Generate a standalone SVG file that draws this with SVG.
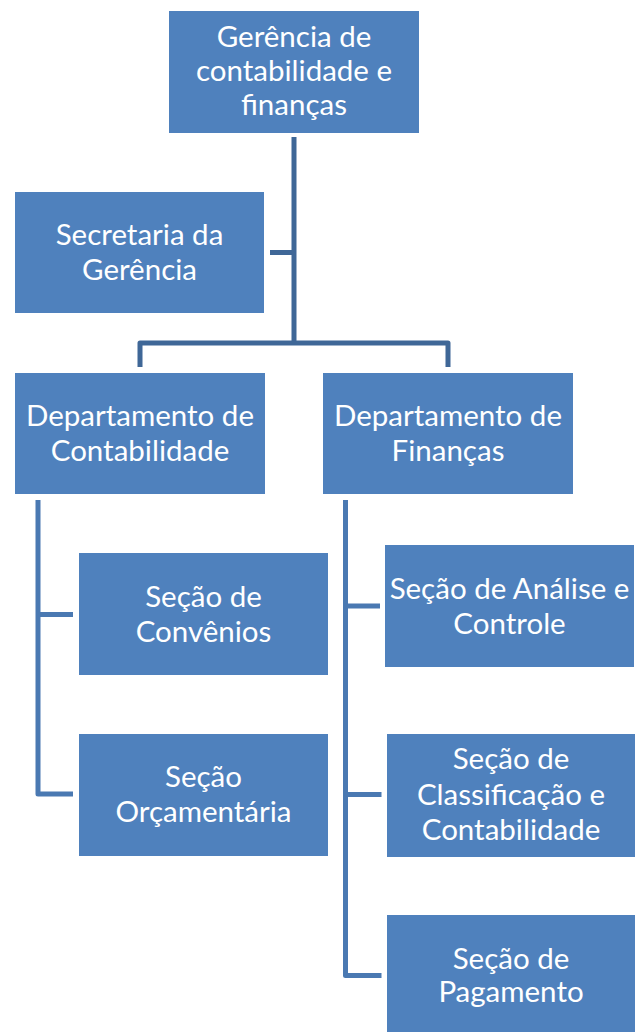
<svg xmlns="http://www.w3.org/2000/svg" width="635" height="1032" viewBox="0 0 635 1032">
<style>
.box{fill:#4F81BD}
.t{font-family:Lato,"Liberation Sans",sans-serif;font-size:29.5px;fill:#FFFFFF;text-anchor:middle}
.c1{fill:none;stroke:#3F6797;stroke-width:5;stroke-linejoin:round}
.c2{fill:none;stroke:#4A79B2;stroke-width:5;stroke-linejoin:round}
</style>
<rect width="635" height="1032" fill="#FFFFFF"/>
<g id="connectors">
<path class="c1" d="M294,137 V343"/>
<path class="c1" d="M270,252.5 H294"/>
<path class="c1" d="M140,367 V343 H448 V367"/>
<path class="c2" d="M38,500 V794 H73"/>
<path class="c2" d="M38,614.5 H73"/>
<path class="c2" d="M345.5,500 V975.5 H381.5"/>
<path class="c2" d="M345.5,606 H380"/>
<path class="c2" d="M345.5,794.5 H381.5"/>
</g>
<g id="n-gerencia">
<rect class="box" x="169" y="11" width="250" height="122"/>
<text class="t" x="294"><tspan x="294" y="47">Gerência de</tspan><tspan x="294" y="81">contabilidade e</tspan><tspan x="294" y="115">finanças</tspan></text>
</g>
<g id="n-secretaria">
<rect class="box" x="15" y="192" width="249" height="121"/>
<text class="t"><tspan x="139.5" y="245">Secretaria da</tspan><tspan x="139.5" y="280">Gerência</tspan></text>
</g>
<g id="n-dep-contabilidade">
<rect class="box" x="15" y="373" width="250" height="121"/>
<text class="t"><tspan x="140" y="426">Departamento de</tspan><tspan x="140" y="461">Contabilidade</tspan></text>
</g>
<g id="n-dep-financas">
<rect class="box" x="323" y="373" width="250" height="121"/>
<text class="t"><tspan x="448" y="426">Departamento de</tspan><tspan x="448" y="461">Finanças</tspan></text>
</g>
<g id="n-convenios">
<rect class="box" x="79" y="553" width="249" height="122"/>
<text class="t"><tspan x="203.5" y="607">Seção de</tspan><tspan x="203.5" y="641.5">Convênios</tspan></text>
</g>
<g id="n-orcamentaria">
<rect class="box" x="79" y="734" width="249" height="122"/>
<text class="t"><tspan x="203.5" y="787">Seção</tspan><tspan x="203.5" y="822">Orçamentária</tspan></text>
</g>
<g id="n-analise">
<rect class="box" x="385" y="545" width="249" height="122"/>
<text class="t"><tspan x="509.5" y="598.5">Seção de Análise e</tspan><tspan x="509.5" y="633.5">Controle</tspan></text>
</g>
<g id="n-classificacao">
<rect class="box" x="387" y="734" width="248" height="123"/>
<text class="t"><tspan x="511" y="769">Seção de</tspan><tspan x="511" y="805">Classificação e</tspan><tspan x="511" y="840">Contabilidade</tspan></text>
</g>
<g id="n-pagamento">
<rect class="box" x="387" y="915" width="248" height="117"/>
<text class="t"><tspan x="511" y="968.5">Seção de</tspan><tspan x="511" y="1002">Pagamento</tspan></text>
</g>
</svg>
